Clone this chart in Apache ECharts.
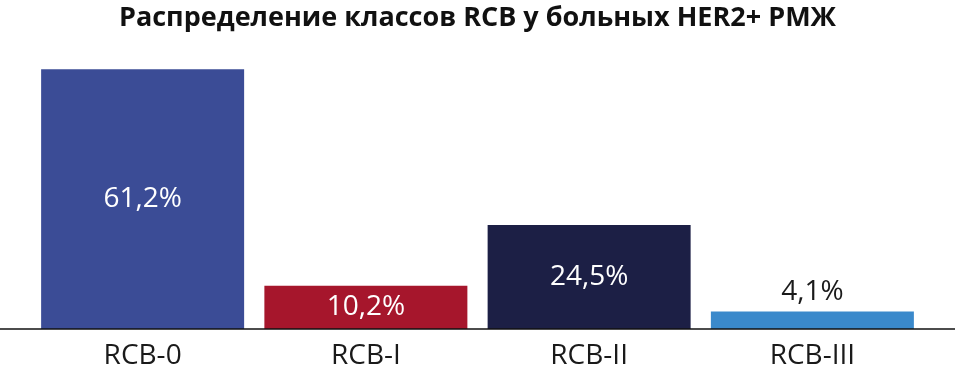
<!DOCTYPE html>
<html><head><meta charset="utf-8">
<script src="https://cdn.jsdelivr.net/npm/echarts@6/dist/echarts.min.js"></script>
<style>html,body{margin:0;padding:0;background:#fff}#c{width:955px;height:378px}</style>
</head><body><div id="c"></div>
<script>
const categories = ['RCB-0', 'RCB-I', 'RCB-II', 'RCB-III'];
const values = [61.2, 10.2, 24.5, 4.1];
const valueLabels = ['61,2%', '10,2%', '24,5%', '4,1%'];
const barColors = ['#3b4c96', '#a6162c', '#1c1f45', '#3a89cb'];
const titleText = 'Распределение классов RCB у больных HER2+ РМЖ';

const chart = echarts.init(document.getElementById('c'), null, {renderer: 'canvas'});
const font = '"Open Sans", "Noto Sans", sans-serif';
chart.setOption({
  animation: false,
  title: {text: titleText, left: 'center', top: 0,
    textStyle: {fontFamily: font, fontWeight: 'bold', fontSize: 27, color: '#111'}},
  grid: {left: 31, right: 31, top: 32, bottom: 49},
  xAxis: {type: 'category', data: categories,
    axisLine: {show: false}, axisTick: {show: false},
    axisLabel: {fontFamily: font, fontSize: 28, color: '#1a1a1a', margin: 13}},
  yAxis: {type: 'value', min: 0, max: 70, show: false, splitLine: {show: false}},
  graphic: [{type: 'line', shape: {x1: 0, y1: 329, x2: 955, y2: 329},
    style: {stroke: '#111', lineWidth: 1.5}, z: 10}],
  series: [{type: 'bar', barWidth: 203,
    data: values.map((v, i) => ({value: v, itemStyle: {color: barColors[i]},
      label: i === 3 ? {position: 'top', color: '#1a1a1a', distance: 6} : {position: 'inside', color: '#fff'}})),
    label: {show: true, fontFamily: font, fontSize: 28,
      formatter: p => valueLabels[p.dataIndex]}}]
});
</script></body></html>
